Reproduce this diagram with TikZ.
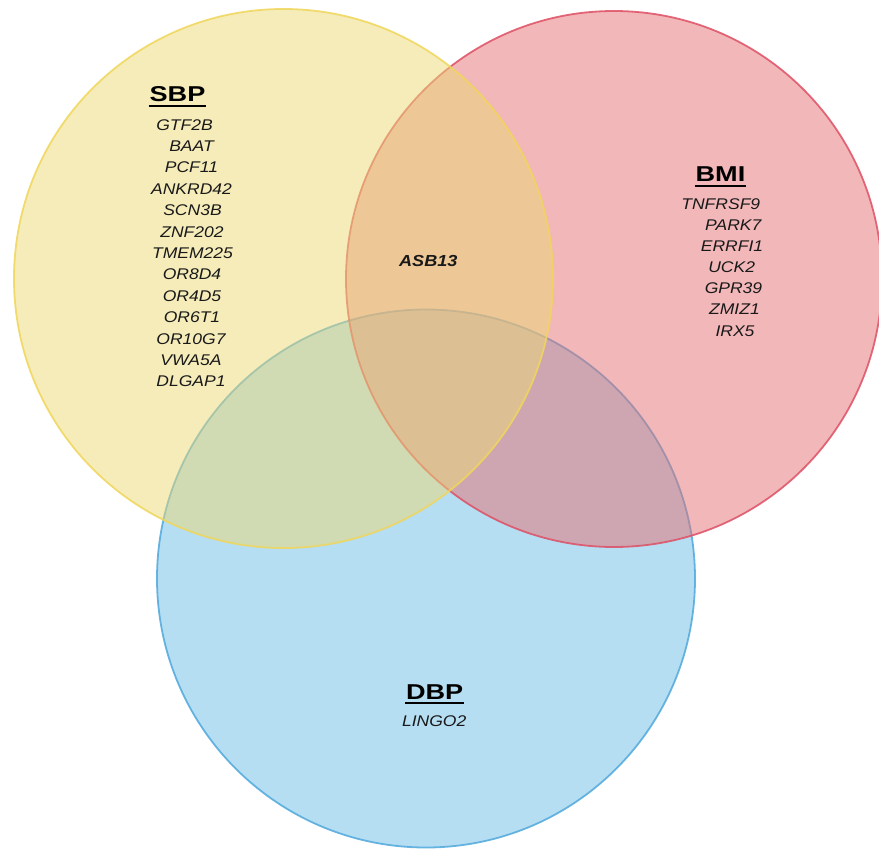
\documentclass[tikz,border=0pt]{standalone}
\usepackage{fontspec}
\setmainfont{Liberation Sans}
\newfontfamily\genefont[FakeStretch=1.13]{Liberation Sans}
\newfontfamily\titlefont[FakeStretch=1.26]{Liberation Sans}
\newcommand\myul[1]{\setbox0\hbox{#1}\rlap{\kern-1pt\rule[-5pt]{\dimexpr\wd0+2pt\relax}{2pt}}\box0}
\definecolor{yfill}{RGB}{235,217,117}
\definecolor{rfill}{RGB}{229,111,115}
\definecolor{bfill}{RGB}{109,189,229}
\definecolor{ydraw}{RGB}{240,214,90}
\definecolor{rdraw}{RGB}{222,80,100}
\definecolor{bdraw}{RGB}{80,168,220}
\tikzset{
  setcirc/.style={circle, minimum size=#1, inner sep=0pt, line width=1.8pt, fill opacity=0.5, draw opacity=0.85},
  gene/.style={anchor=base, inner sep=0pt, font=\genefont\fontsize{15.5}{18}\selectfont\itshape, text=black!90},
  title/.style={anchor=base, inner sep=0pt, font=\titlefont\fontsize{21.5}{24}\selectfont\bfseries, text=black},
}
\begin{document}
\begin{tikzpicture}[x=1pt,y=-1pt]
\useasboundingbox (0,0) rectangle (879,849);
% circles
\node[setcirc=538pt, fill=bfill, draw=bdraw] (dbp) at (426,578.5) {};
\node[setcirc=536pt, fill=rfill, draw=rdraw] (bmi) at (614,279) {};
\node[setcirc=539pt, fill=yfill, draw=ydraw] (sbp) at (283.5,278.5) {};
% SBP
\node[title] (tsbp) at (177.5,101.7) {\myul{SBP}};
\node[gene] (g1) at (184.5,130) {GTF2B};
\node[gene] (g2) at (191.5,151.4) {BAAT};
\node[gene] (g3) at (191.5,172.8) {PCF11};
\node[gene] (g4) at (191.5,194.2) {ANKRD42};
\node[gene] (g5) at (192.5,215.6) {SCN3B};
\node[gene] (g6) at (192,237) {ZNF202};
\node[gene] (g7) at (192.5,258.4) {TMEM225};
\node[gene] (g8) at (192,279.8) {OR8D4};
\node[gene] (g9) at (192,301.2) {OR4D5};
\node[gene] (g10) at (192,322.6) {OR6T1};
\node[gene] (g11) at (191,344) {OR10G7};
\node[gene] (g12) at (191,365.4) {VWA5A};
\node[gene] (g13) at (191,386.8) {DLGAP1};
% BMI
\node[title] (tbmi) at (720.5,181.7) {\myul{BMI}};
\node[gene] (b1) at (720.8,209.3) {TNFRSF9};
\node[gene] (b2) at (733.3,230.4) {PARK7};
\node[gene] (b3) at (732,251.5) {ERRFI1};
\node[gene] (b4) at (731.7,272.6) {UCK2};
\node[gene] (b5) at (733.5,293.7) {GPR39};
\node[gene] (b6) at (734.5,314.8) {ZMIZ1};
\node[gene] (b7) at (735,336) {IRX5};
% intersection
\node[gene, font=\genefont\fontsize{16}{18}\selectfont\bfseries\itshape] (asb) at (428.3,266.7) {ASB13};
% DBP
\node[title] (tdbp) at (434.7,699.3) {\myul{DBP}};
\node[gene] (d1) at (434.2,726.7) {LINGO2};
\end{tikzpicture}
\end{document}
